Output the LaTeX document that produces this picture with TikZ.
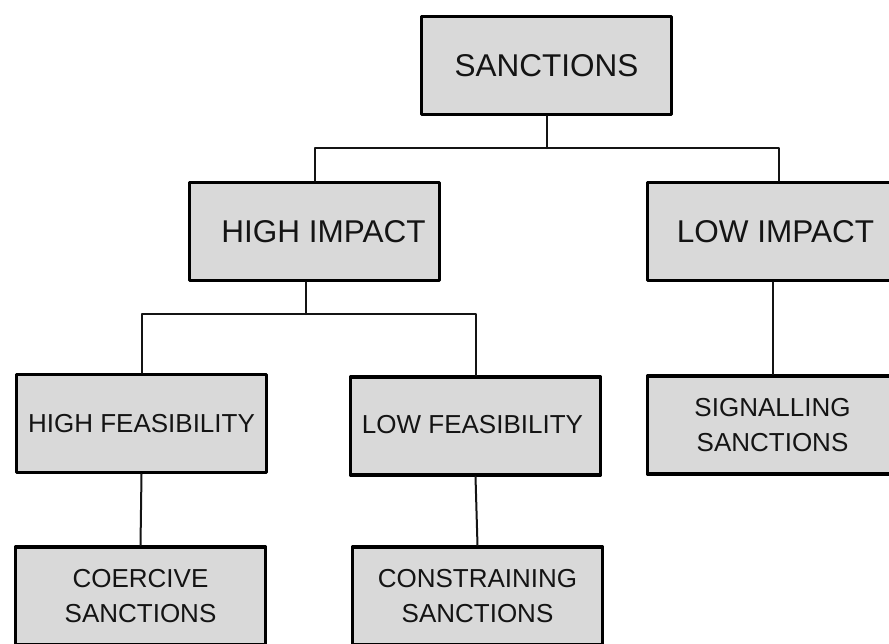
\documentclass[tikz,border=0pt]{standalone}
\usepackage{fontspec}
\setmainfont{Liberation Sans}
\definecolor{boxgray}{HTML}{D9D9D9}
\definecolor{inkblack}{HTML}{141414}
\newcommand{\bigtxt}{\fontsize{31.5}{38}\selectfont}
\newcommand{\smalltxt}{\fontsize{26}{35}\selectfont}
\begin{document}
\begin{tikzpicture}[x=1pt,y=-1pt, line join=round, line cap=round]
			\tikzset{box/.style={draw=black, line width=3.2pt, fill=boxgray, text=inkblack, minimum width=250pt, minimum height=98pt, inner sep=0pt, align=center, font=\smalltxt}}
			\tikzset{link/.style={line width=2pt, draw=inkblack}}
			\useasboundingbox (0,0) rectangle (889,644);
			\clip (0,0) rectangle (889,644);
			% levels
			\node[box, font=\bigtxt] (sanc) at (546.5,65.5) {SANCTIONS};
			\node[box, font=\bigtxt] (hi) at (314.5,231.5) {\hspace{18pt}HIGH IMPACT};
			\node[box, font=\bigtxt] (lo) at (772.5,231.5) {\hspace{6pt}LOW IMPACT};
			\node[box] (hf) at (141.5,423.5) {HIGH FEASIBILITY};
			\node[box] (lf) at (475.5,426) {\raisebox{4pt}{LOW FEASIBILITY}\hspace{6pt}};
			\node[box] (sig) at (772.5,425) {SIGNALLING\\SANCTIONS};
			\node[box] (coe) at (140.5,596) {COERCIVE\\SANCTIONS};
			\node[box] (con) at (477.5,596) {CONSTRAINING\\SANCTIONS};
			% connectors
			\draw[link] (sanc.south) -- ++(0,32) coordinate (bus1);
			\draw[link] (hi.north) |- (bus1) -| ([xshift=6.5pt]lo.north);
			\draw[link] ([xshift=-8.5pt]hi.south) -- ++(0,32) coordinate (bus2);
			\draw[link] (hf.north) |- (bus2) -| (lf.north);
			\draw[link] (lo.south) -- (sig.north);
			\draw[link] (hf.south) -- (coe.north);
			\draw[link] (lf.south) -- (con.north);
		\end{tikzpicture}
\end{document}
